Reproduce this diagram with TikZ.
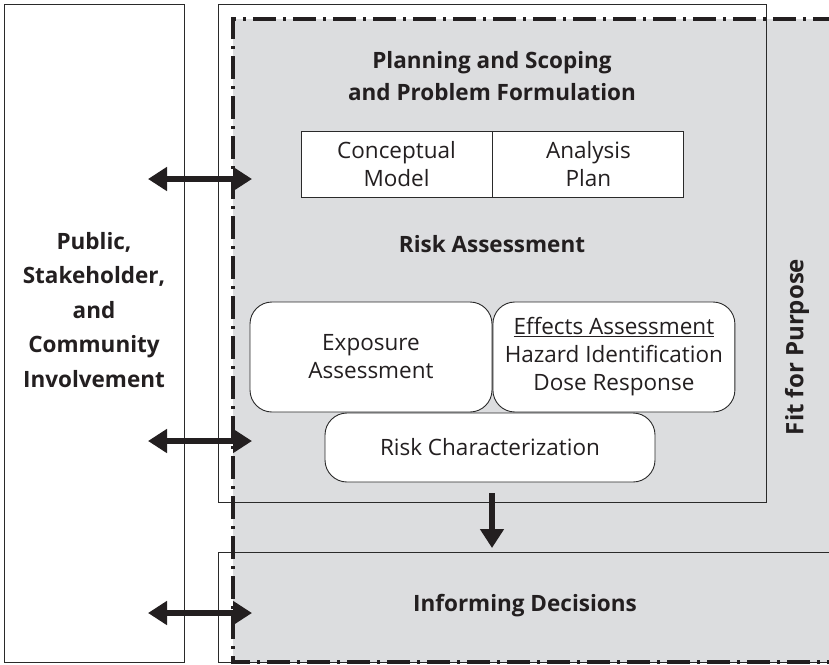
\documentclass[tikz,border=0pt]{standalone}
\usepackage{fontspec}
\setmainfont{Open Sans}
\usetikzlibrary{arrows.meta, positioning}
\definecolor{panelgray}{HTML}{DCDDDF}
\definecolor{linegray}{HTML}{2A2A2A}
\definecolor{inkblack}{HTML}{231F20}

\begin{document}
\begin{tikzpicture}[x=1pt, y=-1pt, font=\fontsize{22.5}{28}\selectfont, text=inkblack]
    \tikzstyle{frame}=[draw=linegray, line width=0.9pt, inner sep=0pt]
    \tikzstyle{cell}=[frame, fill=white, minimum width=191pt, minimum height=66pt, align=center]
    \tikzstyle{stage}=[frame, fill=white, rounded corners=22pt, align=center]
    \tikzstyle{heading}=[font=\fontsize{22.5}{32}\selectfont\bfseries, align=center]
    \tikzstyle{fitline}=[draw=inkblack, line width=3.2pt, dash pattern=on 23pt off 7pt on 3pt off 7pt]
    \tikzstyle{link}=[draw=inkblack, line width=5.5pt, -{Triangle[length=19pt,width=23pt]}]
    \tikzstyle{twoway}=[link, {Triangle[length=19pt,width=23pt]}-{Triangle[length=19pt,width=23pt]}]

    \clip (0,0) rectangle (829,664);

    % gray area inside the fit for purpose line
    \fill[panelgray] (233,19) rectangle (850,662);

    % outer frames
    \node[frame, minimum width=180pt, minimum height=658pt] (public) at (94,333) {};
    \node[frame, minimum width=548pt, minimum height=498pt] (assess) at (492,253) {};
    \node[frame, minimum width=640pt, minimum height=110pt, anchor=north west] (inform) at (218,552) {};

    % fit for purpose boundary
    \draw[fitline] (850,662) -- (233,662) -- (233,19) -- (850,19);

    % planning and scoping
    \node[heading] (plan) at (492,76) {Planning and Scoping\\and Problem Formulation};
    \node[cell] (model) at (396.5,164) {Conceptual\\Model};
    \node[cell, right=0pt of model] (analysis) {Analysis\\Plan};

    % risk assessment
    \node[heading] (risk) at (492,244) {Risk Assessment};
    \node[stage, minimum width=242pt, minimum height=110pt] (expo) at (371,357) {Exposure\\Assessment};
    \node[stage, minimum width=242pt, minimum height=110pt, right=0pt of expo] (effects) {\underline{Effects Assessment}\\Hazard Identification\\Dose Response};
    \node[stage, minimum width=330pt, minimum height=69pt] (charac) at (490,447.5) {Risk Characterization};

    \node[heading, font=\fontsize{24}{30}\selectfont\bfseries, rotate=90] (fit) at (797,347) {Fit for Purpose};
    \node[heading, font=\fontsize{22.5}{34.5}\selectfont\bfseries] (who) at (94,310) {Public,\\Stakeholder,\\and\\Community\\Involvement};
    \node[heading] (decide) at (525,606) {Informing Decisions};

    % exchanges with the public
    \foreach \name/\y in {top/179, mid/441, low/613} {
        \coordinate (L-\name) at (148,\y);
        \coordinate (R-\name) at (252,\y);
        \draw[twoway] (L-\name) -- (R-\name);
    }

    % on to decisions
    \coordinate (down-start) at (492,493);
    \coordinate (down-end) at (492,548);
    \draw[link] (down-start) -- (down-end);
\end{tikzpicture}
\end{document}
